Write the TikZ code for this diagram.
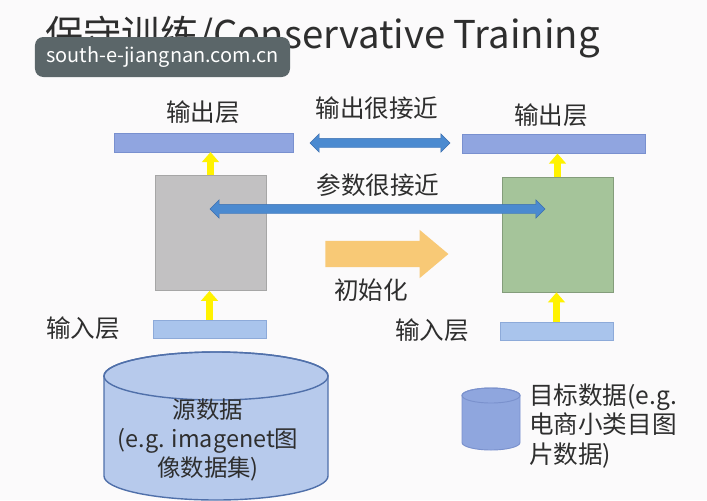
\documentclass[tikz,border=0pt]{standalone}
\usepackage{fontspec}
\setmainfont{Noto Sans CJK SC}
\usetikzlibrary{shapes.arrows,arrows.meta}
\definecolor{bgwhite}{HTML}{FBFAFB}
\definecolor{txtgray}{HTML}{2E2E2E}
\definecolor{outfill}{HTML}{90A5E0}
\definecolor{outline}{HTML}{7990CF}
\definecolor{infill}{HTML}{A9C4EC}
\definecolor{inline}{HTML}{8DAAD9}
\definecolor{hidgray}{HTML}{C2C1C2}
\definecolor{hidgreen}{HTML}{A5C49A}
\definecolor{arrblue}{HTML}{4B8AD0}
\definecolor{arrblueln}{HTML}{3D6FAE}
\definecolor{initorange}{HTML}{F8C976}
\definecolor{srcfill}{HTML}{B7CAEC}
\definecolor{srcline}{HTML}{5070AA}
\definecolor{tgtfill}{HTML}{8FA6DE}
\definecolor{tgtline}{HTML}{7A91CD}
\definecolor{wmgray}{HTML}{5B6669}
\begin{document}
\begin{tikzpicture}[x=0.03cm,y=-0.03cm,
  lbl/.style={text=txtgray,font=\fontsize{21pt}{25pt}\selectfont},
  outbar/.style={draw=outline,fill=outfill,inner sep=0,minimum height=0.56cm},
  inbar/.style={draw=inline,fill=infill,inner sep=0,minimum height=0.54cm},
  hidbox/.style={inner sep=0,minimum width=3.33cm,minimum height=3.46cm},
  yarr/.style={draw=yellow,line width=0.21cm,-{Triangle[width=0.5cm,length=0.3cm]}},
  nearrow/.style={double arrow,draw=arrblueln,fill=arrblue,inner sep=0,inner ysep=0.135cm,double arrow head extend=0.135cm}]
  \fill[bgwhite] (0,0) rectangle (707,500);
  % title and watermark
  \node[anchor=base west,text=txtgray,font=\fontsize{32.7pt}{38pt}\selectfont,inner sep=0] (title) at (45,48) {保守训练/Conservative Training};
  \node[fill=wmgray,rounded corners=0.25cm,minimum width=7.65cm,minimum height=1.2cm,text=white,font=\fontsize{17pt}{20pt}\selectfont] (wm) at (162.5,57) {south-e-jiangnan.com.cn};
  % source network
  \node[outbar,minimum width=5.37cm] (lout) at (203.5,142.5) {};
  \node[hidbox,draw=gray!70,fill=hidgray] (lhid) at (210.5,233) {};
  \node[inbar,minimum width=3.39cm] (lin) at (209.5,329) {};
  \node[lbl] (lolbl) at (203,112) {输出层};
  \node[lbl] (lilbl) at (83,328) {输入层};
  \draw[yarr] (lhid.north) -- (lhid.north |- lout.south);
  \draw[yarr] (lin.north) -- (lin.north |- lhid.south);
  % target network
  \node[outbar,minimum width=5.49cm] (rout) at (553.5,144) {};
  \node[hidbox,draw=hidgreen!80!black,fill=hidgreen] (rhid) at (557.5,234.5) {};
  \node[inbar,minimum width=3.39cm] (rin) at (556.5,331) {};
  \node[lbl] (rolbl) at (551,115) {输出层};
  \node[lbl] (rilbl) at (432,330) {输入层};
  \draw[yarr] (rhid.north) -- (rhid.north |- rout.south);
  \draw[yarr] (rin.north) -- (rin.north |- rhid.south);
  % arrows in between
  \node[nearrow,minimum height=4.2cm] (outnear) at (380,143) {};
  \node[lbl] (outlbl) at (377,108) {输出很接近};
  \node[nearrow,minimum height=10.05cm] (parnear) at (377.5,209) {};
  \node[lbl] (parlbl) at (378,185) {参数很接近};
  \node[single arrow,fill=initorange,inner sep=0,inner ysep=0.39cm,single arrow head extend=0.33cm,single arrow tip angle=80,minimum height=3.69cm] (init) at (379,254) {};
  \node[lbl] (initlbl) at (371,290) {初始化};
  % data
  \path[draw=srcline,fill=srcfill,line width=1.2pt] (104,376) -- (104,476) arc[start angle=180,end angle=360,x radius=3.36cm,y radius=0.72cm] -- (328,376) arc[start angle=0,end angle=180,x radius=3.36cm,y radius=0.72cm] -- cycle;
  \draw[srcline,line width=1.2pt] (216,376) ellipse[x radius=3.36cm,y radius=0.72cm];
  \node[text=txtgray,font=\fontsize{20pt}{25pt}\selectfont,align=center] (srctxt) at (208,440) {源数据\\(e.g. imagenet图\\像数据集)};
  \path[draw=tgtline,fill=tgtfill,line width=0.8pt] (462,395.5) -- (462,442.5) arc[start angle=180,end angle=360,x radius=0.87cm,y radius=0.225cm] -- (520,395.5) arc[start angle=0,end angle=180,x radius=0.87cm,y radius=0.225cm] -- cycle;
  \draw[tgtline,line width=0.8pt] (491,395.5) ellipse[x radius=0.87cm,y radius=0.225cm];
  \node[lbl,align=left,anchor=west] (tgttxt) at (525,426) {目标数据(e.g.\\电商小类目图\\片数据)};
\end{tikzpicture}
\end{document}
